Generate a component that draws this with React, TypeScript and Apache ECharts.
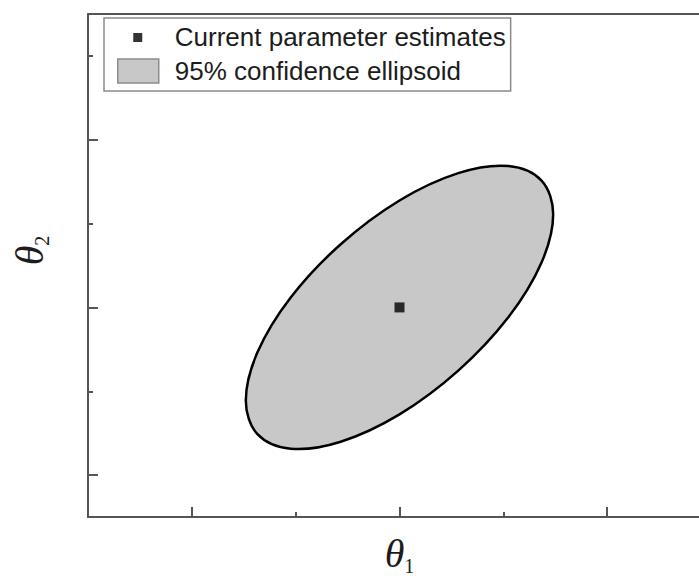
import React, { useEffect, useRef } from "react";
import * as echarts from "echarts";

// ---- data ----
const seriesNames = ["Current parameter estimates", "95% confidence ellipsoid"];
const estimateX = [2];
const estimateY = [2];
const ellipseX = [2.740, 2.684, 2.524, 2.283, 2.000, 1.717, 1.476, 1.316, 1.260, 1.316, 1.476, 1.717, 2.000, 2.283, 2.524, 2.684];
const ellipseY = [2.555, 2.756, 2.843, 2.801, 2.638, 2.377, 2.059, 1.732, 1.445, 1.244, 1.157, 1.199, 1.362, 1.623, 1.941, 2.268];
const xMajorTicks = [1, 2, 3];
const xMinorTicks = [1.5, 2.5];
const yMajorTicks = [1, 2, 3];
const yMinorTicks = [1.5, 2.5, 3.5];
const xRange = [0.5, 3.5];
const yRange = [0.75, 3.75];

const AX = "#555";
const TXT = "#1c1c1c";
const SERIF = "'Liberation Serif', 'DejaVu Serif', 'Times New Roman', serif";
const SANS = "'Liberation Sans', Arial, Helvetica, sans-serif";

const nameRich = {
  t: { fontFamily: SERIF, fontStyle: "italic", fontSize: 40, lineHeight: 40, color: TXT },
  s: { fontFamily: SERIF, fontSize: 20, lineHeight: 20, color: TXT, padding: [26, 0, 0, 0] },
};

const lineStyle = { color: AX, width: 2 };

export default function App() {
  const ref = useRef<HTMLDivElement>(null);
  useEffect(() => {
    if (!ref.current) return;
    const chart = echarts.init(ref.current, undefined, { renderer: "svg" });
    const hidden = { show: false };
    const option: any = {
      animation: false,
      backgroundColor: "#ffffff",
      grid: { left: 88, right: -12, top: 14, bottom: 62, outerBoundsMode: "none" },
      legend: {
        orient: "vertical",
        left: 104,
        top: 18,
        padding: [6, 5, 7, 13],
        itemGap: 8,
        itemWidth: 41,
        itemHeight: 24,
        borderColor: "#8a8a8a",
        borderWidth: 1.5,
        backgroundColor: "#ffffff",
        selectedMode: false,
        textStyle: { fontFamily: SANS, fontSize: 26, color: TXT, lineHeight: 24, padding: [0, 0, 0, 11] },
        data: [
          { name: seriesNames[0], icon: "path://M0,0M41,24M15.5,8h9v9h-9z", itemStyle: { color: "#000", borderWidth: 0 } },
          { name: seriesNames[1], icon: "rect", itemStyle: { color: "#c8c8c8", borderColor: "#8c8c8c", borderWidth: 1.5 } },
        ],
      },
      xAxis: [
        {
          type: "value", position: "bottom", min: xRange[0], max: xRange[1],
          axisLine: { show: true, onZero: false, lineStyle },
          axisTick: { show: true, inside: true, length: 10, customValues: xMajorTicks, lineStyle },
          axisLabel: hidden, splitLine: hidden,
          name: "{t|θ}{s|1}", nameLocation: "middle", nameGap: 16,
          nameTextStyle: { rich: nameRich },
        },
        {
          type: "value", position: "bottom", min: xRange[0], max: xRange[1],
          axisLine: { show: false, onZero: false },
          axisTick: { show: true, inside: true, length: 5, customValues: xMinorTicks, lineStyle },
          axisLabel: hidden, splitLine: hidden,
        },
        {
          type: "value", position: "top", min: xRange[0], max: xRange[1],
          axisLine: { show: true, onZero: false, lineStyle },
          axisTick: hidden, axisLabel: hidden, splitLine: hidden,
        },
      ],
      yAxis: [
        {
          type: "value", position: "left", min: yRange[0], max: yRange[1],
          axisLine: { show: true, onZero: false, lineStyle },
          axisTick: { show: true, inside: true, length: 10, customValues: yMajorTicks, lineStyle },
          axisLabel: hidden, splitLine: hidden,
          name: "{t|θ}{s|2}", nameLocation: "middle", nameGap: 39,
          nameTextStyle: { rich: nameRich, padding: [0, 0, 0, 30] },
        },
        {
          type: "value", position: "left", min: yRange[0], max: yRange[1],
          axisLine: { show: false, onZero: false },
          axisTick: { show: true, inside: true, length: 5, customValues: yMinorTicks, lineStyle },
          axisLabel: hidden, splitLine: hidden,
        },
      ],
      series: [
        {
          type: "custom",
          name: seriesNames[1],
          xAxisIndex: 0,
          yAxisIndex: 0,
          data: ellipseX.map((x, i) => [x, ellipseY[i]]),
          itemStyle: { color: "#c8c8c8" },
          silent: true,
          z: 2,
          renderItem: (params: any, api: any) => {
            if (params.dataIndex !== 0) return null;
            const pts = ellipseX.map((x, i) => api.coord([x, ellipseY[i]]));
            return {
              type: "polygon",
              shape: { points: pts, smooth: 0.35 },
              style: { fill: "#c8c8c8", stroke: "#000", lineWidth: 2.5 },
            };
          },
        },
        {
          type: "scatter",
          name: seriesNames[0],
          xAxisIndex: 0,
          yAxisIndex: 0,
          data: estimateX.map((x, i) => [x, estimateY[i]]),
          symbol: "rect",
          symbolSize: 10,
          itemStyle: { color: "#000" },
          z: 3,
        },
      ],
    };
    chart.setOption(option);
    return () => chart.dispose();
  }, []);
  return (
    <div
      ref={ref}
      style={{ position: "absolute", left: 0, top: 0, width: 699, height: 579, background: "#fff" }}
    />
  );
}
